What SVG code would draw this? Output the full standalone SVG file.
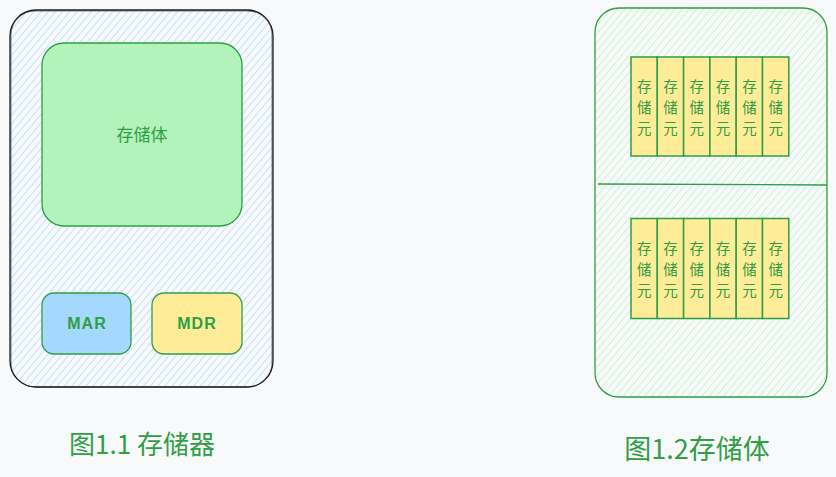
<svg xmlns="http://www.w3.org/2000/svg" width="836" height="477" viewBox="0 0 836 477">
<defs>
<pattern id="hb" width="5.5" height="6" patternUnits="userSpaceOnUse" patternTransform="rotate(40)">
<rect width="5.5" height="6" fill="#f8f9fa"/>
<line x1="0" y1="0" x2="0" y2="6" stroke="#a5d8ff" stroke-width="1.3"/>
</pattern>
<pattern id="hg" width="5.5" height="6" patternUnits="userSpaceOnUse" patternTransform="rotate(40)">
<rect width="5.5" height="6" fill="#f8f9fa"/>
<line x1="0" y1="0" x2="0" y2="6" stroke="#b2f2bb" stroke-width="1.3"/>
</pattern>
</defs>
<style>
.t{font-family:"Noto Sans CJK SC","Noto Sans",sans-serif;fill:#2f9e44;text-anchor:middle;dominant-baseline:central}
.hand{font-family:"Liberation Sans",sans-serif;font-weight:bold;fill:#2f9e44;text-anchor:middle;dominant-baseline:central;font-size:16px;letter-spacing:1px}
.cell{fill:#ffec99;stroke:#2f9e44;stroke-width:1.5}
.ct{font-family:"Noto Sans CJK SC",sans-serif;fill:#2f9e44;text-anchor:middle;dominant-baseline:central;font-size:14.5px}
</style>
<rect width="836" height="477" fill="#f8f9fa"/>
<g id="memory">
<rect x="10" y="10" width="263" height="377" rx="26" fill="url(#hb)" stroke="#1e1e1e" stroke-width="1.3"/>
<rect x="11" y="11" width="261" height="376" rx="24" fill="none" stroke="#1e1e1e" stroke-width="0.8" opacity="0.7"/>
</g>
<g id="storage-body">
<rect x="42" y="43" width="200" height="183" rx="22" fill="#b2f2bb" stroke="#2f9e44" stroke-width="1.3"/>
<text class="t" x="142" y="133" font-size="17">存储体</text>
</g>
<g id="mar">
<rect x="42" y="293" width="89" height="61" rx="12" fill="#a5d8ff" stroke="#2f9e44" stroke-width="1.3"/>
<text class="hand" x="87" y="323">MAR</text>
</g>
<g id="mdr">
<rect x="152" y="293" width="90" height="61" rx="12" fill="#ffec99" stroke="#2f9e44" stroke-width="1.3"/>
<text class="hand" x="197" y="323">MDR</text>
</g>
<text id="cap1" class="t" x="142" y="442" font-size="26">图1.1 存储器</text>
<g id="storage-body-2">
<rect x="595" y="8" width="232" height="389" rx="24" fill="url(#hg)" stroke="#2f9e44" stroke-width="1.3"/>
<line x1="598" y1="184" x2="827" y2="185" stroke="#2f9e44" stroke-width="1.3"/>
</g>
<g id="cells-top">
<rect class="cell" x="631" y="57" width="26.3" height="99"/>
<rect class="cell" x="657.3" y="57" width="26.3" height="99"/>
<rect class="cell" x="683.6" y="57" width="26.3" height="99"/>
<rect class="cell" x="709.9" y="57" width="26.3" height="99"/>
<rect class="cell" x="736.2" y="57" width="26.3" height="99"/>
<rect class="cell" x="762.5" y="57" width="26.3" height="99"/>
<text class="ct" x="644.2" y="85">存</text><text class="ct" x="644.2" y="106">储</text><text class="ct" x="644.2" y="127">元</text>
<text class="ct" x="670.5" y="85">存</text><text class="ct" x="670.5" y="106">储</text><text class="ct" x="670.5" y="127">元</text>
<text class="ct" x="696.8" y="85">存</text><text class="ct" x="696.8" y="106">储</text><text class="ct" x="696.8" y="127">元</text>
<text class="ct" x="723.1" y="85">存</text><text class="ct" x="723.1" y="106">储</text><text class="ct" x="723.1" y="127">元</text>
<text class="ct" x="749.4" y="85">存</text><text class="ct" x="749.4" y="106">储</text><text class="ct" x="749.4" y="127">元</text>
<text class="ct" x="775.7" y="85">存</text><text class="ct" x="775.7" y="106">储</text><text class="ct" x="775.7" y="127">元</text>
</g>
<g id="cells-bottom">
<rect class="cell" x="631" y="218.5" width="26.3" height="100"/>
<rect class="cell" x="657.3" y="218.5" width="26.3" height="100"/>
<rect class="cell" x="683.6" y="218.5" width="26.3" height="100"/>
<rect class="cell" x="709.9" y="218.5" width="26.3" height="100"/>
<rect class="cell" x="736.2" y="218.5" width="26.3" height="100"/>
<rect class="cell" x="762.5" y="218.5" width="26.3" height="100"/>
<text class="ct" x="644.2" y="247">存</text><text class="ct" x="644.2" y="268">储</text><text class="ct" x="644.2" y="289">元</text>
<text class="ct" x="670.5" y="247">存</text><text class="ct" x="670.5" y="268">储</text><text class="ct" x="670.5" y="289">元</text>
<text class="ct" x="696.8" y="247">存</text><text class="ct" x="696.8" y="268">储</text><text class="ct" x="696.8" y="289">元</text>
<text class="ct" x="723.1" y="247">存</text><text class="ct" x="723.1" y="268">储</text><text class="ct" x="723.1" y="289">元</text>
<text class="ct" x="749.4" y="247">存</text><text class="ct" x="749.4" y="268">储</text><text class="ct" x="749.4" y="289">元</text>
<text class="ct" x="775.7" y="247">存</text><text class="ct" x="775.7" y="268">储</text><text class="ct" x="775.7" y="289">元</text>
</g>
<text id="cap2" class="t" x="697" y="447" font-size="27">图1.2存储体</text>
<g id="connectors"/>
</svg>
